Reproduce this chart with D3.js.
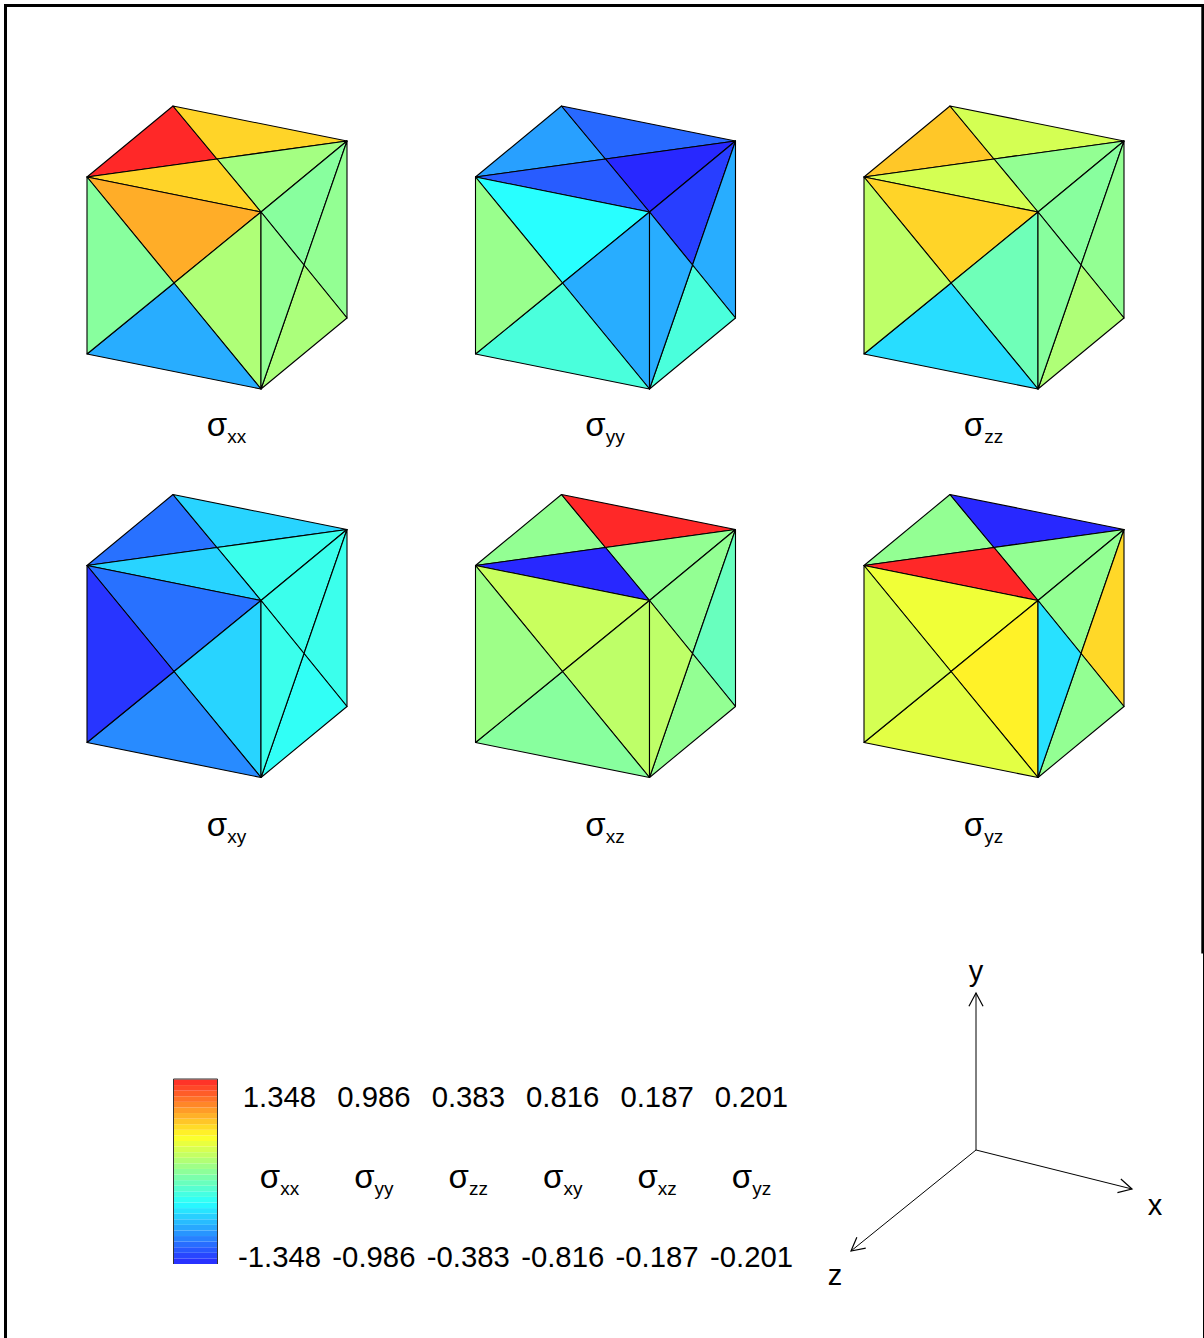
<!DOCTYPE html>
<html>
<head>
<meta charset="utf-8">
<script src="https://cdn.jsdelivr.net/npm/d3@7"></script>
<style>
html, body { margin: 0; padding: 0; background: #fff; }
svg { display: block; }
text { font-family: "Liberation Sans", Arial, sans-serif; fill: #000; }
</style>
</head>
<body>
<svg id="chart" width="1204" height="1338"></svg>
<script>
// panel order, left to right then top to bottom
var components = ["xx", "yy", "zz", "xy", "xz", "yz"];

// normalised stress per triangle
// top: left back right front, front: top right bottom left, right: top right bottom left
var sigmaXX = [1, 0.6, 0.08, 0.6, 0.69, 0.13, -0.69, -0.05, -0.05, 0, 0.11, 0];
var sigmaYY = [-0.72, -0.85, -1, -0.88, -0.5, -0.69, -0.34, 0.03, -0.95, -0.69, -0.34, -0.69];
var sigmaZZ = [0.63, 0.3, 0, 0.3, 0.6, -0.17, -0.58, 0.2, -0.05, 0, 0.13, -0.05];
var sigmaXY = [-0.83, -0.6, -0.41, -0.6, -0.83, -0.6, -0.77, -0.97, -0.41, -0.41, -0.46, -0.41];
var sigmaXZ = [0, 1, 0, -1, 0.25, 0.2, -0.05, 0.05, 0, -0.2, 0, 0.2];
var sigmaYZ = [0, -1, 0, 1, 0.43, 0.53, 0.37, 0.3, 0, 0.59, 0, -0.57];
var panelValues = [sigmaXX, sigmaYY, sigmaZZ, sigmaXY, sigmaXZ, sigmaYZ];

var maxLabels = ["1.348", "0.986", "0.383", "0.816", "0.187", "0.201"];
var minLabels = ["-1.348", "-0.986", "-0.383", "-0.816", "-0.187", "-0.201"];

// unit cube corners and face centres [x, y, z]
var vertices = {
    a: [0, 1, 1], b: [0, 1, 0], c: [1, 1, 0], d: [1, 1, 1],
    e: [0, 0, 1], f: [1, 0, 0], g: [1, 0, 1],
    t: [0.5, 1, 0.5], n: [0.5, 0.5, 1], r: [1, 0.5, 0.5]
};
var triangles = [
    "abt", "bct", "cdt", "dat",
    "adn", "dgn", "gen", "ean",
    "dcr", "cfr", "fgr", "gdr"
];

var svg = d3.select("#chart");

var color = d3.scaleLinear()
    .domain([-1, -0.5, 0, 0.5, 1])
    .range(["#2828ff", "#28ffff", "#93ff93", "#ffff28", "#ff2828"]);

// oblique projection of the cube axes
var xToX = d3.scaleLinear().domain([0, 1]).range([0, 174]);
var xToY = d3.scaleLinear().domain([0, 1]).range([0, 35]);
var yToY = d3.scaleLinear().domain([0, 1]).range([0, -177]);
var zToX = d3.scaleLinear().domain([0, 1]).range([0, -86]);
var zToY = d3.scaleLinear().domain([0, 1]).range([0, 71]);

var colScale = d3.scaleLinear().domain([0, 2]).range([173, 950]);
var rowScale = d3.scaleLinear().domain([0, 1]).range([283, 671.5]);
var labelCol = d3.scaleLinear().domain([0, 2]).range([226.5, 983.5]);
var labelRow = d3.scaleLinear().domain([0, 1]).range([436, 836]);

function project(v) {
    return [xToX(v[0]) + zToX(v[2]), xToY(v[0]) + yToY(v[1]) + zToY(v[2])];
}

var line = d3.line();

// frame, heavy on the top, left and upper right
svg.append("path")
    .attr("d", "M5.5,1338V5.5H1202.8V953.5")
    .attr("fill", "none").attr("stroke", "#000").attr("stroke-width", 3);
svg.append("path")
    .attr("d", "M1203.5,953V1338")
    .attr("fill", "none").attr("stroke", "#000").attr("stroke-width", 1);

function sigmaLabel(x, y, name) {
    var label = svg.append("text").attr("x", x).attr("y", y).attr("text-anchor", "middle");
    label.append("tspan").attr("font-size", 33).text("σ");
    label.append("tspan").attr("font-size", 19).attr("dy", 7).text(name);
}

components.forEach(function(name, i) {
    var col = i % 3, row = Math.floor(i / 3);
    var panel = svg.append("g")
        .attr("transform", "translate(" + colScale(col) + "," + rowScale(row) + ")");
    panel.selectAll("path")
        .data(triangles)
        .enter().append("path")
        .attr("d", function(t) {
            return line(t.split("").map(function(k) { return project(vertices[k]); })) + "Z";
        })
        .attr("fill", function(t, k) { return color(panelValues[i][k]); })
        .attr("stroke", "#000")
        .attr("stroke-width", 1.1)
        .attr("stroke-linejoin", "round");
    sigmaLabel(labelCol(col), labelRow(row), name);
});

// colour bar, the seams between bands are left to antialiasing
// the palette is not evenly spaced along the bar
var barStops = [0, 0.33, 0.51, 0.69, 1];
var barLevels = [-1, -0.5, 0, 0.5, 1];
var barValue = d3.scaleLinear().domain(barStops).range(barLevels);
var barSteps = d3.range(33);
var barY = d3.scaleLinear().domain([0, barSteps.length]).range([1264, 1079.5]);
svg.selectAll("rect.band")
    .data(barSteps)
    .enter().append("rect")
    .attr("class", "band")
    .attr("x", 173.5)
    .attr("width", 44)
    .attr("y", function(d) { return barY(d + 1); })
    .attr("height", function(d) { return barY(d) - barY(d + 1); })
    .attr("fill", function(d) { return color(barValue((d + 0.5) / barSteps.length)); });
svg.append("path")
    .attr("d", "M173.5,1264V1079H217.5V1264")
    .attr("fill", "none").attr("stroke", "#333").attr("stroke-width", 1);

var legendX = d3.scaleLinear().domain([0, 5]).range([279.5, 751.5]);
maxLabels.forEach(function(d, i) {
    svg.append("text").attr("x", legendX(i)).attr("y", 1107)
        .attr("text-anchor", "middle").attr("font-size", 29.3).text(d);
    svg.append("text").attr("x", legendX(i)).attr("y", 1267)
        .attr("text-anchor", "middle").attr("font-size", 29.3).text(minLabels[i]);
    sigmaLabel(legendX(i), 1188, components[i]);
});

// axes triad
var triadOrigin = [976, 1150];
var triadAxes = [
    {name: "x", dir: [156, 39], label: [1155, 1215]},
    {name: "y", dir: [0, -157], label: [976, 981]},
    {name: "z", dir: [-125, 101], label: [835, 1285]}
];
triadAxes.forEach(function(axis) {
    var tip = [triadOrigin[0] + axis.dir[0], triadOrigin[1] + axis.dir[1]];
    var angle = Math.atan2(axis.dir[1], axis.dir[0]);
    var wing = function(sign) {
        var a = angle + Math.PI + sign * 0.49;
        return [tip[0] + 15 * Math.cos(a), tip[1] + 15 * Math.sin(a)];
    };
    svg.append("path")
        .attr("d", line([triadOrigin, tip]))
        .attr("fill", "none").attr("stroke", "#000").attr("stroke-width", 1);
    svg.append("path")
        .attr("d", line([wing(1), tip, wing(-1)]))
        .attr("fill", "none").attr("stroke", "#000").attr("stroke-width", 1.2);
    svg.append("text").attr("x", axis.label[0]).attr("y", axis.label[1])
        .attr("text-anchor", "middle").attr("font-size", 29).text(axis.name);
});
</script>
</body>
</html>
